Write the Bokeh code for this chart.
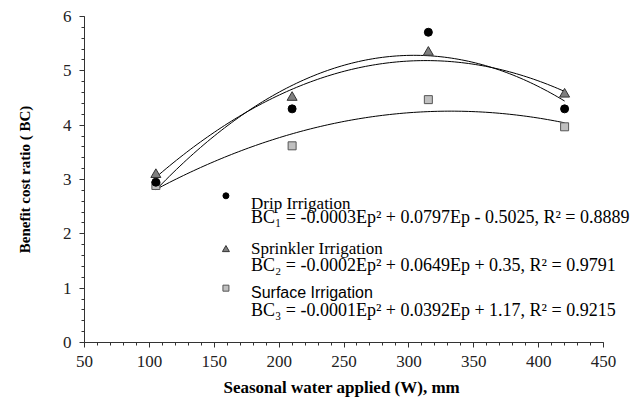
import numpy as np
from bokeh.plotting import figure
from bokeh.models import Range1d, SingleIntervalTicker, Label, Title
from bokeh.embed import file_html
from bokeh.resources import INLINE

# ---- data ----
water = [105, 210, 315, 420]
drip = [2.95, 4.30, 5.71, 4.30]
sprinkler = [3.09, 4.51, 5.34, 4.57]
surface = [2.89, 3.62, 4.47, 3.97]

legend_titles = ["Drip Irrigation", "Sprinkler Irrigation", "Surface Irrigation"]
legend_equations = [
    "BC\u2081 = -0.0003Ep\u00b2 + 0.0797Ep - 0.5025, R\u00b2 = 0.8889",
    "BC\u2082 = -0.0002Ep\u00b2 + 0.0649Ep + 0.35, R\u00b2 = 0.9791",
    "BC\u2083 = -0.0001Ep\u00b2 + 0.0392Ep + 1.17, R\u00b2 = 0.9215",
]

x_label = "Seasonal water applied (W), mm"
y_label = "Benefit cost ratio ( BC)"

SERIF = "Liberation Serif"
SERIF_Q = "'Liberation Serif', serif"
SANS = "Liberation Sans"

# the frame runs to the right edge so the legend text is not clipped;
# the x axis itself is bounded to 50..450
p = figure(width=633, height=403, x_range=Range1d(50, 473.1), y_range=Range1d(0, 6),
           output_backend="svg", toolbar_location=None,
           min_border_left=84, min_border_right=0, min_border_top=16, min_border_bottom=61)
p.outline_line_color = None
p.xgrid.grid_line_color = None
p.ygrid.grid_line_color = None
p.background_fill_color = "white"
p.border_fill_color = "white"

p.xaxis.ticker = SingleIntervalTicker(interval=50, num_minor_ticks=5)
p.yaxis.ticker = SingleIntervalTicker(interval=1, num_minor_ticks=5)
p.xaxis.bounds = (50, 450)
for ax in (p.xaxis, p.yaxis):
    ax.axis_line_color = "#333333"
    ax.major_tick_line_color = "#333333"
    ax.minor_tick_line_color = "#333333"
    ax.major_tick_in = 0
    ax.major_tick_out = 5
    ax.minor_tick_in = 0
    ax.minor_tick_out = 3
    ax.major_label_text_font = SERIF_Q
    ax.major_label_text_font_size = "17px"
    ax.major_label_text_color = "#222222"
    ax.axis_label_text_font = SERIF
    ax.axis_label_text_font_style = "bold"
    ax.axis_label_text_color = "black"

p.yaxis.axis_label = y_label
p.yaxis.axis_label_text_font_size = "15px"
p.xaxis.major_label_standoff = 8
p.yaxis.major_label_standoff = 8
p.yaxis.axis_label_standoff = 27

# x-axis title, left-aligned under the bounded axis so it is centred on 50..450
p.add_layout(Title(text=x_label, align="left", offset=139, text_font=SERIF,
                   text_font_style="bold", text_font_size="17px", text_color="black",
                   standoff=13), "below")

# quadratic trend lines fitted to the data
xs = np.linspace(min(water), max(water), 120)
for series in (drip, sprinkler, surface):
    coef = np.polyfit(water, series, 2)
    p.line(xs, np.polyval(coef, xs), line_color="black", line_width=1)

p.scatter(water, surface, marker="square", size=8, fill_color="#c0c0c0", line_color="#555555")
p.scatter(water, drip, marker="circle", size=8, fill_color="black", line_color="black")
p.scatter(water, sprinkler, marker="triangle", size=10, fill_color="#7f7f7f", line_color="#333333")

# legend (hand-built, inside the plot area)
mx = 159
p.scatter([mx], [2.70], marker="circle", size=6, fill_color="black", line_color="black")
p.scatter([mx], [1.71], marker="triangle", size=7, fill_color="#7f7f7f", line_color="#333333")
p.scatter([mx], [1.00], marker="square", size=6, fill_color="#c0c0c0", line_color="#555555")

tx = 178.3
title_y = [2.565, 1.735, 0.915]
eq_y = [2.315, 1.431, 0.602]
title_fonts = [SERIF_Q, SERIF_Q, SANS]
title_sizes = ["17px", "17px", "16px"]
for t, ty, e, ey, f, fs in zip(legend_titles, title_y, legend_equations, eq_y, title_fonts, title_sizes):
    p.add_layout(Label(x=tx, y=ty, text=t, text_font=f, text_font_size=fs,
                       text_color="black", text_baseline="alphabetic"))
    p.add_layout(Label(x=tx, y=ey, text=e, text_font=SERIF, text_font_size="18px",
                       text_color="black", text_baseline="alphabetic"))

open("out.html", "w").write(file_html(p, INLINE))
